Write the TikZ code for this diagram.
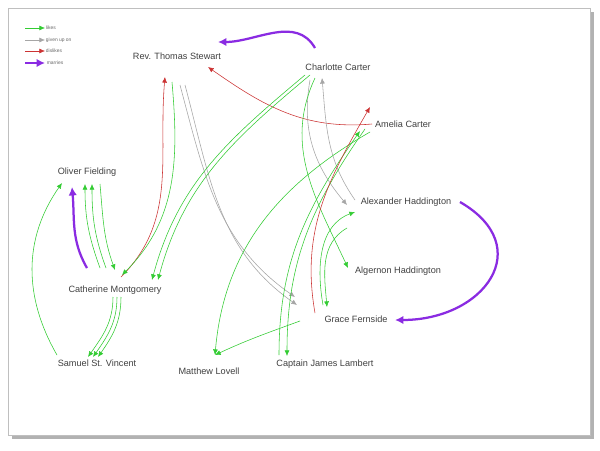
\documentclass[tikz,border=0pt]{standalone}
\usepackage{fontspec}
\setmainfont{Liberation Sans}
\usetikzlibrary{arrows.meta}
\definecolor{likegreen}{HTML}{33CC33}
\definecolor{dislikered}{HTML}{CC3333}
\definecolor{marrypurple}{HTML}{8A2BE2}
\tikzset{
  person/.style={font=\fontsize{6.5}{7}\selectfont, text=black!75, inner sep=1pt},
  likes/.style={draw=likegreen, line width=0.4pt, -{Latex[length=4pt,width=3.5pt]}},
  givenup/.style={draw=black!35, line width=0.4pt, -{Latex[length=4pt,width=3.5pt]}},
  dislikes/.style={draw=dislikered, line width=0.4pt, -{Latex[length=4pt,width=3.5pt]}},
  marries/.style={draw=marrypurple, line width=1.6pt, -{Latex[length=6pt,width=6pt]}},
  legend/.style={font=\fontsize{3.5}{4}\selectfont, text=black!60, anchor=west, inner sep=0.5pt}
}
\begin{document}
\begin{tikzpicture}[x=0.025cm,y=0.025cm]
\useasboundingbox (0,0) rectangle (600,450);
% page
\fill[black!30] (12,11) rectangle (594,438);
\filldraw[fill=white, draw=black!25] (8,15) rectangle (590,442);

% legend
\draw[likes] (25,422) -- (45,422) node[legend, right] {likes};
\draw[givenup] (25,410) -- (45,410) node[legend, right] {given up on};
\draw[dislikes] (25,399) -- (45,399) node[legend, right] {dislikes};
\draw[marries] (25,387) -- (45,387) node[legend, right] {marries};

% people
\node[person] (stewart) at (177,394) {Rev. Thomas Stewart};
\node[person] (charlotte) at (338,383) {Charlotte Carter};
\node[person] (amelia) at (403,326) {Amelia Carter};
\node[person] (oliver) at (87,278) {Oliver Fielding};
\node[person] (alex) at (406,248) {Alexander Haddington};
\node[person] (algernon) at (398,179) {Algernon Haddington};
\node[person] (cath) at (115,160) {Catherine Montgomery};
\node[person] (grace) at (356,131) {Grace Fernside};
\node[person] (samuel) at (97,87) {Samuel St. Vincent};
\node[person] (matthew) at (209,79) {Matthew Lovell};
\node[person] (lambert) at (325,86) {Captain James Lambert};

% marriages
\draw[marries] ([shift={(-23,19)}]charlotte.center) to[out=120,in=0] ([shift={(41,14)}]stewart.center);
\draw[marries] ([shift={(54,0)}]alex.center) to[out=-30,in=0,looseness=1.7] ([shift={(39,-1)}]grace.center);
\draw[marries] ([shift={(-28,22)}]cath.center) to[out=120,in=-85] ([shift={(-15,-15)}]oliver.center);

% Oliver, Catherine, Samuel
\draw[likes] ([shift={(-2,-7)}]cath.center) to[out=-90,in=55] ([shift={(-9,6)}]samuel.center);
\draw[likes] ([shift={(2,-7)}]cath.center) to[out=-90,in=55] ([shift={(-4,6)}]samuel.center);
\draw[likes] ([shift={(6,-7)}]cath.center) to[out=-90,in=55] ([shift={(1,6)}]samuel.center);
\draw[likes] ([shift={(-40,8)}]samuel.center) to[out=120,in=-125] ([shift={(-25,-11)}]oliver.center);
\draw[likes] ([shift={(-15,22)}]cath.center) to[out=110,in=-90] ([shift={(-2,-12)}]oliver.center);
\draw[likes] ([shift={(-9,22)}]cath.center) to[out=110,in=-90] ([shift={(5,-12)}]oliver.center);
\draw[likes] ([shift={(13,-12)}]oliver.center) to[out=-85,in=110] ([shift={(0,20)}]cath.center);

% Stewart
\draw[dislikes] ([shift={(6,13)}]cath.center) to[out=45,in=-95] ([shift={(-12,-21)}]stewart.center);
\draw[likes] ([shift={(-5,-26)}]stewart.center) to[out=-85,in=45] ([shift={(7,15)}]cath.center);
\draw[givenup] ([shift={(3,-29)}]stewart.center) to[out=-75,in=145] ([shift={(-61,22)}]grace.center);
\draw[givenup] ([shift={(8,-29)}]stewart.center) to[out=-75,in=145] ([shift={(-59,14)}]grace.center);
\draw[dislikes] ([shift={(-31,0)}]amelia.center) to[out=185,in=-35] ([shift={(31,-11)}]stewart.center);

% Charlotte
\draw[likes] ([shift={(-33,-8)}]charlotte.center) to[out=-140,in=75] ([shift={(37,10)}]cath.center);
\draw[likes] ([shift={(-28,-8)}]charlotte.center) to[out=-140,in=75] ([shift={(43,10)}]cath.center);
\draw[givenup] ([shift={(-28,-13)}]charlotte.center) to[out=-100,in=130] ([shift={(-59,-3)}]alex.center);
\draw[givenup] ([shift={(-51,2)}]alex.center) to[out=125,in=-85] ([shift={(-16,-11)}]charlotte.center);
\draw[likes] ([shift={(-23,-11)}]charlotte.center) to[out=-115,in=115] ([shift={(-50,3)}]algernon.center);

% Amelia, Lambert, Matthew
\draw[likes] ([shift={(-46,9)}]lambert.center) to[out=90,in=-125] ([shift={(-43,-7)}]amelia.center);
\draw[likes] ([shift={(-38,-5)}]amelia.center) to[out=-125,in=90] ([shift={(-38,8)}]lambert.center);
\draw[likes] ([shift={(-33,-8)}]amelia.center) to[out=-150,in=85] ([shift={(6,16)}]matthew.center);
\draw[likes] ([shift={(-56,-2)}]grace.center) to[out=-160,in=25] ([shift={(6,16)}]matthew.center);

% Grace, Alexander
\draw[dislikes] ([shift={(-41,6)}]grace.center) to[out=100,in=-120] ([shift={(-33,17)}]amelia.center);
\draw[likes] ([shift={(-33,14)}]grace.center) to[out=100,in=-160] ([shift={(-51,-10)}]alex.center);
\draw[likes] ([shift={(-59,-26)}]alex.center) to[out=-150,in=95] ([shift={(-29,12)}]grace.center);
\end{tikzpicture}
\end{document}
